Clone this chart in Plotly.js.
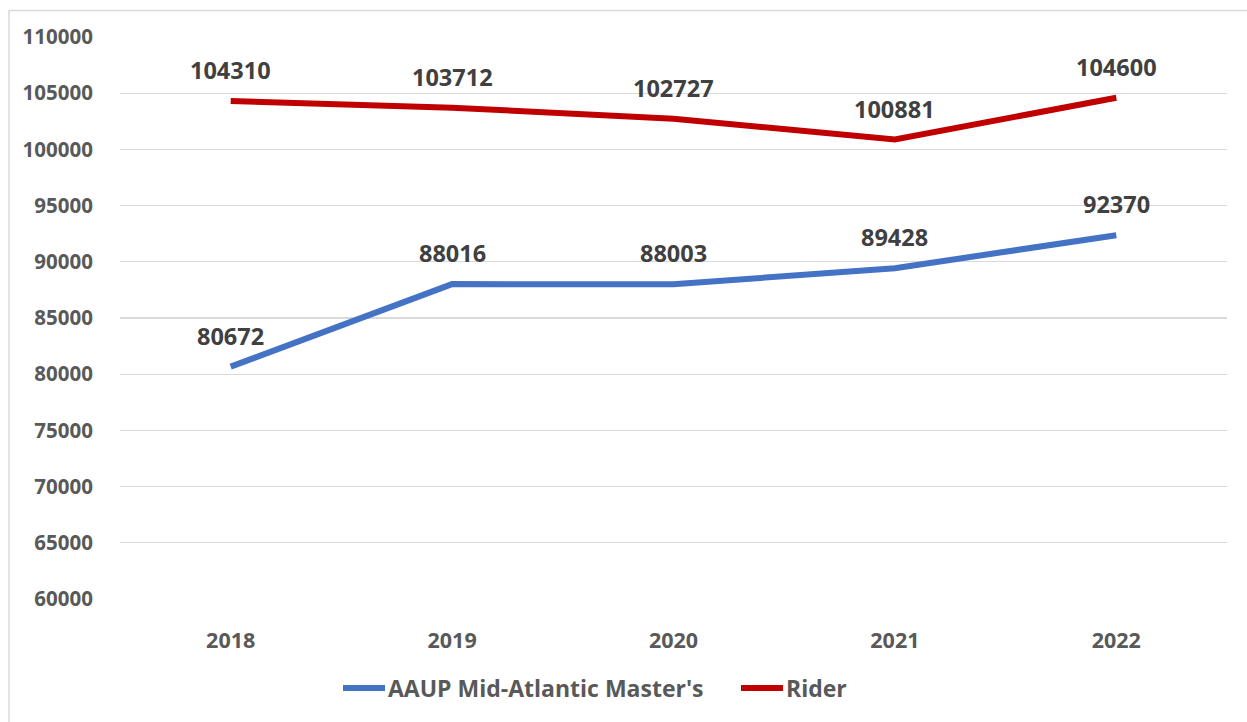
<!DOCTYPE html>
<html><head><meta charset="utf-8">
<script src="https://cdn.plot.ly/plotly-3.0.1.min.js"></script>
<style>html,body{margin:0;padding:0;background:#fff;}#chart{width:1247px;height:722px;}</style>
</head><body><div id="chart"></div>
<script>
const years = ['2018','2019','2020','2021','2022'];
const aaup = [80672, 88016, 88003, 89428, 92370];
const rider = [104310, 103712, 102727, 100881, 104600];
const seriesNames = ["AAUP Mid-Atlantic Master's", 'Rider'];
const seriesColors = ['#4472C4', '#C00000'];
const yTicks = [60000,65000,70000,75000,80000,85000,90000,95000,100000,105000,110000];

const W = 1247, H = 722, L = 120, R = 20, T = 36.5, B = 123;
const pw = W - L - R, ph = H - T - B;
const px = x => (x - L) / pw;
const py = y => (H - B - y) / ph;

const font = 'Open Sans, Liberation Sans, sans-serif';
const series = [aaup, rider];
const traces = series.map((vals, i) => ({
  x: years, y: vals, type: 'scatter', mode: 'lines',
  name: seriesNames[i],
  line: {color: seriesColors[i], width: 6},
  hoverinfo: 'x+y', cliponaxis: false
}));

const annotations = [];
series.forEach(vals => vals.forEach((v, j) => annotations.push({
  x: j, y: v, xref: 'x', yref: 'y', text: String(v), showarrow: false,
  yshift: 31, font: {family: font, size: 23.5, color: '#404040', weight: 700}
})));

// custom legend
const legendItems = [{lx: 343, tx: 386}, {lx: 741, tx: 784}];
const shapes = [{
  type: 'rect', xref: 'paper', yref: 'paper',
  x0: px(9), x1: px(1260), y0: py(740), y1: py(10),
  line: {color: '#d9d9d9', width: 1.5}, fillcolor: 'rgba(0,0,0,0)'
}];
legendItems.forEach((it, i) => {
  shapes.push({type: 'line', xref: 'paper', yref: 'paper',
    x0: px(it.lx), x1: px(it.lx + 42), y0: py(688), y1: py(688),
    line: {color: seriesColors[i], width: 6}});
  annotations.push({xref: 'paper', yref: 'paper', x: px(it.tx), y: py(688),
    xanchor: 'left', yanchor: 'middle', showarrow: false, text: seriesNames[i],
    font: {family: font, size: 23, color: '#595959', weight: 700}});
});

const layout = {
  width: W, height: H,
  margin: {l: L, r: R, t: T, b: B},
  paper_bgcolor: '#fff', plot_bgcolor: '#fff',
  showlegend: false,
  xaxis: {
    type: 'category', range: [-0.5, 4.5], showgrid: false, zeroline: false,
    showline: false, ticks: 'outside', ticklen: 22, tickcolor: 'rgba(0,0,0,0)',
    tickfont: {family: font, size: 21.5, color: '#595959', weight: 700}
  },
  yaxis: {
    range: [60000, 110000], tickvals: yTicks, ticktext: yTicks.map(String),
    showgrid: true, gridcolor: '#d9d9d9', gridwidth: 1.3, zeroline: false,
    showline: false, ticks: 'outside', ticklen: 22, tickcolor: 'rgba(0,0,0,0)',
    tickfont: {family: font, size: 20.5, color: '#595959', weight: 700}
  },
  annotations: annotations,
  shapes: shapes
};
Plotly.newPlot('chart', traces, layout, {displayModeBar: false, staticPlot: true});
</script></body></html>
